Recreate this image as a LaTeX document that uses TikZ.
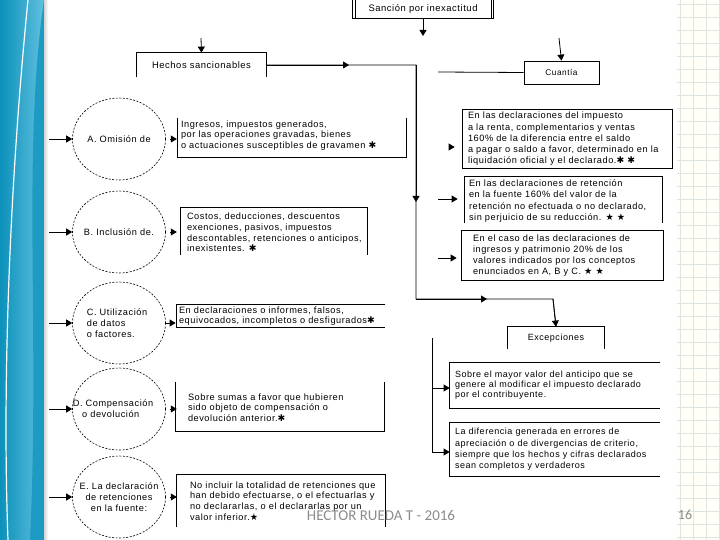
\documentclass[tikz,border=0pt]{standalone}
\usepackage{fontspec}
\setmainfont{Liberation Sans}[LetterSpace=6]
\newfontfamily\footfont{Carlito}
\newfontfamily\symfont{DejaVu Sans}
\usetikzlibrary{arrows.meta,shapes.geometric}

\definecolor{banddark}{RGB}{12,145,186}
\definecolor{bandlight}{RGB}{96,192,224}
\definecolor{gridline}{RGB}{222,228,226}
\definecolor{footgray}{RGB}{140,140,140}

\newcommand{\hast}{{\symfont ✱}}
\newcommand{\bst}{{\symfont ★}}

\begin{document}
\begin{tikzpicture}[x=1pt, y=-1pt, line width=0.8pt,
  arr/.style={-{Triangle[length=6pt,width=7pt]}},
  oval/.style={ellipse, draw, dash pattern=on 2pt off 1.5pt, line width=0.6pt,
    minimum width=93pt, minimum height=82pt, inner sep=0pt},
  ctext/.style={inner sep=0pt, font=\fontsize{9.2}{11}\selectfont},
  frame/.style={inner sep=0pt},
  tbox/.style={inner sep=0pt, anchor=west, align=left,
    font=\fontsize{9.2}{10.6}\selectfont},
  qbox/.style={inner sep=0pt, anchor=west, align=left,
    font=\fontsize{9.2}{11.2}\selectfont},
  title/.style={font=\fontsize{9.4}{11}\selectfont}
]
\useasboundingbox (0,0) rectangle (720,540);

% slide background
\fill[white] (0,0) rectangle (720,540);
\shade[left color=banddark, right color=bandlight] (0,0) rectangle (44,540);
\fill[banddark!80!bandlight] (44,0) .. controls (22,150) and (40,330) .. (30,540) -- (44,540) -- cycle;
\draw[white, line width=1.2pt] (28,0) .. controls (10,180) and (2,380) .. (8,540);
\shade[left color=gray!35, right color=white] (44,0) rectangle (48,540);
\fill[yellow!3] (677,0) rectangle (720,540);
\foreach \gx in {680,693,...,719}
  \draw[line width=0.4pt, gridline] (\gx,0) -- (\gx,540);
\foreach \gy in {4,17,...,540}
  \draw[line width=0.4pt, gridline] (677,\gy) -- (720,\gy);

% top boxes
\node[title, minimum width=140, minimum height=18] (sanc) at (423,9) {Sanción por inexactitud};
\draw (sanc.north west) rectangle (sanc.south east);
\draw ([xshift=2.5pt]sanc.north west) -- ([xshift=2.5pt]sanc.south west);
\draw ([xshift=-2.5pt]sanc.north east) -- ([xshift=-2.5pt]sanc.south east);
\coordinate (sancEnd) at (423,36);
\draw[arr] (sanc.south) -- (sancEnd);

\node[title, minimum width=129, minimum height=24] (hechos) at (201.5,65) {Hechos sancionables};
\draw (hechos.south west) -- (hechos.north west) -- (hechos.north east) -- (hechos.south east);
\coordinate (hechosIn) at (201,38);
\draw[arr] (hechosIn) -- (hechos.north);

\node[draw, font=\fontsize{8.3}{10}\selectfont, minimum width=75, minimum height=23] (cuant) at (561.5,72.5) {Cuantía};
\coordinate (cuantIn) at (559,38);
\draw[arr] (cuantIn) -- (cuant.north);
\coordinate (cuantLine) at (438,72);
\draw (cuantLine) -- (cuant.west);

% circles
\node[oval] (cA) at (119,139) {};
\node[oval] (cB) at (119,232) {};
\node[oval] (cC) at (119,323) {};
\node[oval] (cD) at (119,409) {};
\node[oval] (cE) at (119,497) {};
\node[ctext] (lA) at (cA) {A. Omisión de};
\node[ctext] (lB) at (cB) {B. Inclusión de.};
\node[ctext, align=left] (lC) at ([xshift=-2pt]cC) {C. Utilización\\de datos\\o factores.};
\node[ctext, align=left] (lD) at ([xshift=-6pt]cD) {D. Compensación\\\ \ \ o devolución};
\node[ctext, align=center] (lE) at (cE) {E. La declaración\\de retenciones\\en la fuente:};

\foreach \n in {A,B,C,D,E}{
  \coordinate (in\n) at ([xshift=-23pt]c\n.west);
  \draw[arr] (in\n) -- (c\n.west);
}

% boxes next to circles
\node[frame, minimum width=228, minimum height=39] (bA) at (292,137.5) {};
\node[tbox] (tA) at ([xshift=3pt, yshift=2pt]bA.west) {Ingresos, impuestos generados,\\por las operaciones gravadas, bienes\\o actuaciones susceptibles de gravamen \hast};
\draw (bA.north west) -- (bA.south west) -- (bA.south east) -- (bA.north east);

\node[frame, minimum width=186, minimum height=47] (bB) at (274,231.5) {};
\node[tbox] (tB) at ([xshift=6pt, yshift=-1pt]bB.west) {Costos, deducciones, descuentos\\exenciones, pasivos, impuestos\\descontables, retenciones o anticipos,\\inexistentes. \hast};
\draw (bB.south west) -- (bB.north west) -- (bB.north east) -- (bB.south east);

\node[frame, minimum width=208, minimum height=22] (bC) at (281,316) {};
\node[tbox] (tC) at ([xshift=2pt]bC.west) {En declaraciones o informes, falsos,\\equivocados, incompletos o desfigurados\hast};
\draw (bC.north east) -- (bC.north west) -- (bC.south west) -- (bC.south east);

\node[frame, minimum width=208, minimum height=49] (bD) at (280,406.5) {};
\node[tbox] (tD) at ([xshift=12pt, yshift=-1pt]bD.west) {Sobre sumas a favor que hubieren\\sido objeto de compensación o\\devolución anterior.\hast};
\draw (bD.north west) -- (bD.south west) -- (bD.south east) -- (bD.north east);

\node[frame, minimum width=208, minimum height=52] (bE) at (281,501) {};
\node[tbox] (tE) at ([xshift=13pt]bE.west) {No incluir la totalidad de retenciones que\\han debido efectuarse, o el efectuarlas y\\no declararlas, o el declararlas por un\\valor inferior.\bst};
\draw (bE.south west) -- (bE.north west) -- (bE.north east) -- (bE.south east);

% circle to box (only the tip shows)
\draw[arr] ([xshift=4pt]cA.east) -- ([xshift=11pt]cA.east);
\draw[arr] ([xshift=4pt]cB.east) -- ([xshift=11pt]cB.east);
\draw[arr, shorten >=1pt] (cC.east) -- (cC.east -| bC.west);
\draw[arr] ([xshift=4pt]cD.east) -- ([xshift=11pt]cD.east);
\draw[arr] ([xshift=4pt]cE.east) -- ([xshift=11pt]cE.east);

% main path
\coordinate (k1) at (349,65);
\coordinate (k2) at (416,65);
\coordinate (k3) at (416,202);
\coordinate (k4) at (416,299);
\coordinate (k5) at (487,299);
\coordinate (k6) at (553,299);

\node[frame, minimum width=209, minimum height=58] (q1) at (567.5,139) {};
\node[qbox] (tq1) at ([xshift=5pt]q1.west) {En las declaraciones del impuesto\\a la renta, complementarios y ventas\\160\% de la diferencia entre el saldo\\a pagar o saldo a favor, determinado en la\\liquidación oficial y el declarado.\hast\ \hast};
\draw (q1.north west) rectangle (q1.south east);

\node[frame, minimum width=197, minimum height=46] (q2) at (563.5,200) {};
\node[qbox] (tq2) at ([xshift=4pt, yshift=-1pt]q2.west) {En las declaraciones de retención\\en la fuente 160\% del valor de la\\retención no efectuada o no declarado,\\sin perjuicio de su reducción. \bst\ \bst};
\draw (q2.south west) -- (q2.north west) -- (q2.north east) -- (q2.south east);

\node[frame, minimum width=201, minimum height=49] (q3) at (562.5,255.5) {};
\node[qbox] (tq3) at ([xshift=11pt]q3.west) {En el caso de las declaraciones de\\ingresos y patrimonio 20\% de los\\valores indicados por los conceptos\\enunciados en A, B y C. \bst\ \bst};
\draw (q3.north west) rectangle (q3.south east);

\node[font=\fontsize{9}{10}\selectfont, minimum width=96, minimum height=22] (exc) at (556,338) {Excepciones};
\draw (exc.south west) -- (exc.north west) -- (exc.north east) -- (exc.south east);

\draw (hechos.east) -- (k2) -- (k4) -- (k6) -- (exc.north);
\draw[arr] (hechos.east) -- (k1);
\draw[arr] (k2) -- (k3);
\draw[arr] (k4) -- (k5);
\draw[arr] (k6) -- (exc.north);

% arrows to the amounts
\coordinate (qa1) at (440,147);
\coordinate (qa2) at (438,199);
\coordinate (qa3) at (438,258);
\draw[arr, shorten <=9pt, shorten >=8pt] (qa1) -- (qa1 -| q1.west);
\draw[arr, shorten >=7pt] (qa2) -- (qa2 -| q2.west);
\draw[arr, shorten >=5pt] (qa3) -- (qa3 -| q3.west);

% exceptions
\node[frame, minimum width=210, minimum height=45] (x1) at (555,385.5) {};
\node[qbox, font=\fontsize{9}{10}\selectfont] (tx1) at ([xshift=5pt]x1.west) {Sobre el mayor valor del anticipo que se\\genere al modificar el impuesto declarado\\por el contribuyente.};
\draw (x1.north east) -- (x1.north west) -- (x1.south west) -- (x1.south east);

\node[frame, minimum width=210, minimum height=53] (x2) at (555,449.5) {};
\node[qbox, font=\fontsize{9}{11.3}\selectfont] (tx2) at ([xshift=5pt]x2.west) {La diferencia generada en errores de\\apreciación o de divergencias de criterio,\\siempre que los hechos y cifras declarados\\sean completos y verdaderos};
\draw (x2.north east) -- (x2.north west) -- (x2.south west) -- (x2.south east);

\coordinate (xTop) at (432,338);
\coordinate (xb1) at (432,388);
\coordinate (xb2) at (432,452);
\draw (xTop) -- (xb2);
\draw[arr] (xb1) -- (xb1 -| x1.west);
\draw[arr] (xb2) -- (xb2 -| x2.west);

% footer
\node[font=\footfont\fontsize{15}{17}\selectfont, text=footgray] (foot) at (381,515) {HECTOR RUEDA T - 2016};
\node[font=\footfont\fontsize{14}{16}\selectfont, text=footgray] (pgnum) at (685,515) {16};
\end{tikzpicture}
\end{document}
